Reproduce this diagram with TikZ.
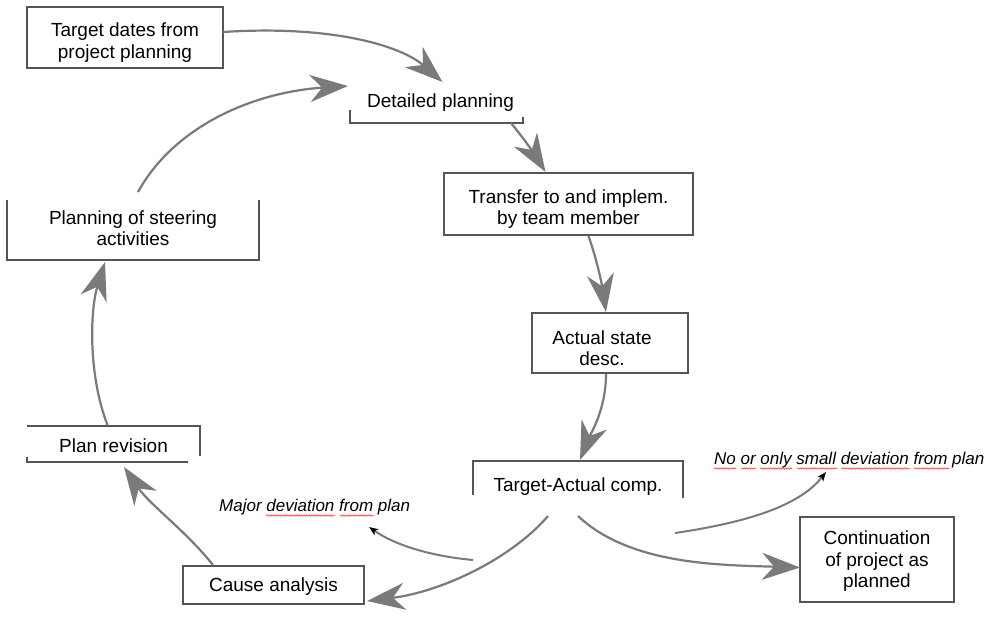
\documentclass[tikz,border=0pt]{standalone}
\usepackage{fontspec}
\setmainfont{Liberation Sans}
\usetikzlibrary{arrows.meta,decorations.pathmorphing,calc}
\definecolor{boxc}{HTML}{555555}
\definecolor{arrc}{HTML}{7A7A7A}
\begin{document}
\begin{tikzpicture}[x=1pt,y=-1pt,
  frame/.style={inner sep=0pt,outer sep=0pt,anchor=north west},
  bt/.style={font=\fontsize{19}{21.5}\selectfont,align=center,inner sep=0pt},
  lab/.style={font=\fontsize{17}{20}\selectfont\itshape,inner sep=0pt,anchor=base west},
  bord/.style={draw=boxc,line width=1.7pt},
  arr/.style={draw=arrc,line width=2.2pt,-{Stealth[length=38pt,width=27pt,inset=12pt]}},
  sarr/.style={draw=arrc,line width=2pt,-{Stealth[length=9pt,width=7pt,inset=2pt,color=black]}},
  wavy/.style={draw=red!85,line width=0.5pt,decorate,decoration={snake,amplitude=0.7pt,segment length=2.5pt}}]
\useasboundingbox[fill=white] (0,0) rectangle (1002,643);

% boxes
\node[frame,minimum width=196pt,minimum height=61pt] (tdp) at (27,7) {};
\node[bt] at ([yshift=-5pt]tdp.center) {Target dates from\\project planning};
\draw[bord] (tdp.north west) rectangle (tdp.south east);

\node[frame,minimum width=173pt,minimum height=35pt] (dp) at (350,88) {};
\node[bt] at ([xshift=4pt,yshift=3pt]dp.center) {Detailed planning};
\draw[bord] ([yshift=13pt]dp.south west) -- (dp.south west) -- (dp.south east) -- ([yshift=6pt]dp.south east);

\node[frame,minimum width=249pt,minimum height=62pt] (tr) at (444,173) {};
\node[bt] at ([yshift=-5pt]tr.center) {Transfer to and implem.\\by team member};
\draw[bord] (tr.north west) rectangle (tr.south east);

\node[frame,minimum width=252pt,minimum height=60pt] (ps) at (7,200) {};
\node[bt] at ([yshift=2pt]ps.center) {Planning of steering\\activities};
\draw[bord] (ps.north west) -- (ps.south west) -- (ps.south east) -- (ps.north east);

\node[frame,minimum width=156pt,minimum height=60pt] (as) at (532,313) {};
\node[bt] at ([xshift=-8pt,yshift=-5pt]as.center) {Actual state\\desc.};
\draw[bord] (as.north west) rectangle (as.south east);

\node[frame,minimum width=173pt,minimum height=36pt] (pr) at (27,426) {};
\node[bt] at ([yshift=-2pt]pr.center) {Plan revision};
\draw[bord] (pr.north west) -- (pr.north east) -- ([yshift=6pt]pr.south east);
\draw[bord] ([yshift=5pt]pr.south west) -- (pr.south west) -- ([xshift=-12pt]pr.south east);

\node[frame,minimum width=210pt,minimum height=37pt] (tac) at (473,461) {};
\node[bt] at ([yshift=-7pt]tac.center) {Target-Actual comp.};
\draw[bord] ([yshift=-34pt]tac.north west) -- (tac.north west) -- (tac.north east) -- (tac.south east);

\node[frame,minimum width=181pt,minimum height=38pt] (ca) at (183,566) {};
\node[bt] at ([yshift=-2pt]ca.center) {Cause analysis};
\draw[bord] (ca.north west) rectangle (ca.south east);

\node[frame,minimum width=154pt,minimum height=85pt] (cont) at (800,517) {};
\node[bt] at ([yshift=-2pt]cont.center) {Continuation\\of project as\\planned};
\draw[bord] (cont.north west) rectangle (cont.south east);

% labels
\node[lab] (maj) at (219,511) {Major deviation from plan};
\node[lab] (nol) at (714,464) {No or only small deviation from plan};

% spell-check underlines
\foreach \a/\b in {266/335,340/374} \draw[wavy] (\a,515.5) -- (\b,515.5);
\foreach \a/\b in {714/736,741/756,760/792,797/837,841/910,914/949} \draw[wavy] (\a,468.5) -- (\b,468.5);

% main cycle connectors
\draw[arr] ([yshift=5.5pt]tdp.east) .. controls (330,25) and (400,45) .. ($(dp.north)+(6,-6)$);
\draw[arr] ($(ps.north)+(5,-8)$) .. controls (175,125) and (255,92) .. ($(dp.west)+(-2,-19.5)$);
\draw[arr] ($(dp.south east)+(-12,0)$) .. controls (525,140) and (535,155) .. ($(tr.north)+(-23,-1)$);
\draw[arr] ($(tr.south)+(20,1)$) .. controls (597,260) and (602,285) .. ($(as.north)+(-4,-1)$);
\draw[arr] ($(as.south)+(-4,1)$) .. controls (606,410) and (590,435) .. ($(tac.north)+(2,-1)$);
\draw[arr] ($(tac.south)+(-30,18)$) .. controls (510,560) and (440,592) .. ($(ca.east)+(3,16)$);
\draw[arr] ($(tac.south)+(0,18)$) .. controls (630,565) and (720,565) .. ($(cont.west)+(0,8)$);
\draw[arr] ($(ca.north west)+(30,-1)$) .. controls (185,530) and (150,505) .. ($(pr.south west)+(97,5)$);
\draw[arr] ($(pr.north)+(-6,-1)$) .. controls (88,375) and (90,310) .. ($(ps.south)+(-28,2)$);

% label pointers
\coordinate (hs) at (675,533);
\coordinate (is) at (473,560);
\draw[sarr] (hs) .. controls (750,522) and (800,505) .. ($(nol.base west)+(112,8)$);
\draw[sarr] (is) .. controls (430,556) and (395,545) .. ($(maj.base west)+(150,16)$);
\end{tikzpicture}
\end{document}
